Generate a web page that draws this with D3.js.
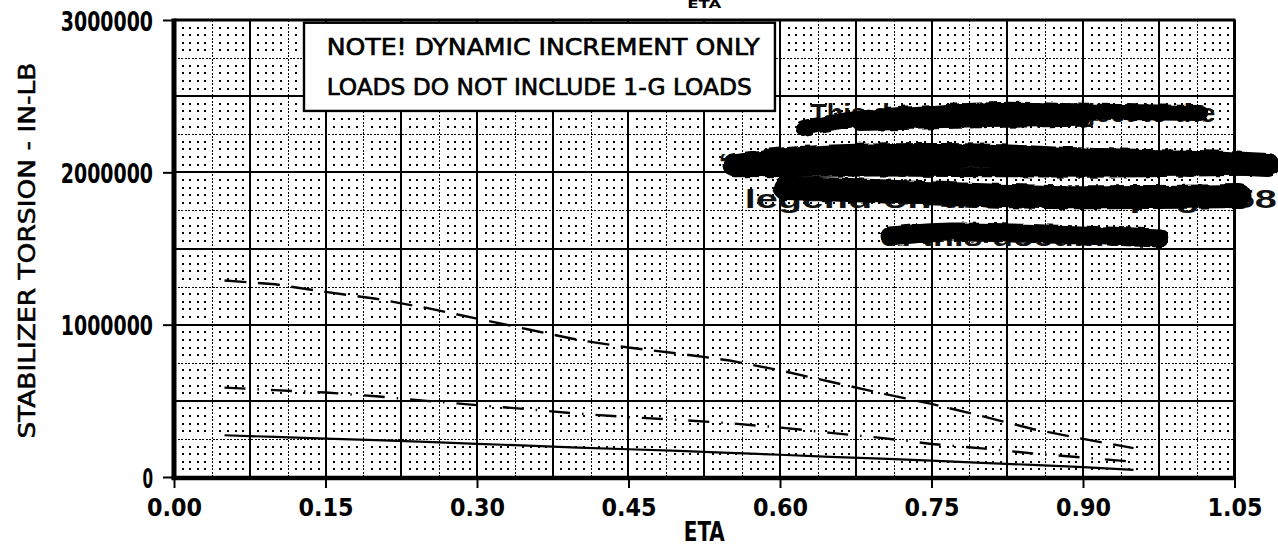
<!DOCTYPE html>
<html><head><meta charset="utf-8">
<script src="https://cdn.jsdelivr.net/npm/d3@7"></script>
<style>body{margin:0;background:#fff;} svg{display:block}</style>
</head><body><svg id="c" width="1278" height="550"></svg>
<script>
// ---------------- data ----------------
const eta = [0.05,0.10,0.15,0.20,0.25,0.30,0.35,0.40,0.45,0.50,0.55,0.60,0.65,0.70,0.75,0.80,0.85,0.90,0.95];
const torsionLongDash = [1290000,1265000,1215000,1170000,1110000,1040000,970000,900000,850000,810000,765000,700000,625000,550000,480000,400000,315000,250000,190000];
const torsionDashDot  = [587000,570000,555000,530000,500000,472000,445000,416000,393000,375000,353000,325000,290000,257000,217000,188000,155000,128000,100000];
const torsionSolid    = [274000,263000,252000,242000,230000,218000,206000,193000,182000,171000,159000,146000,132000,120000,107000,93000,79000,65000,47000];
const xTicks = [0,0.15,0.30,0.45,0.60,0.75,0.90,1.05];
const xTickLabels = ["0.00","0.15","0.30","0.45","0.60","0.75","0.90","1.05"];
const yTicks = [0,1000000,2000000,3000000];
const yTickLabels = ["0","1000000","2000000","3000000"];
const xTitle = "ETA";
const yTitle = "STABILIZER TORSION - IN-LB";
const noteLines = ["NOTE! DYNAMIC INCREMENT ONLY","LOADS DO NOT INCLUDE 1-G LOADS"];
const stampLines = ["This document is subject to the","\u201CLimited Rights\u201D restrictive legende","legend on the cover page 58","of this document."];

// ---------------- layout ----------------
const x = d3.scaleLinear([0,1.05],[174,1234.5]);
const y = d3.scaleLinear([0,3000000],[477,20]);
const svg = d3.select("#c");
const FONT = "'Liberation Sans Narrow','DejaVu Sans Condensed','Liberation Sans',sans-serif";
const px = v => Math.round(v);

// ---------------- grid ----------------
const g = svg.append("g").attr("shape-rendering","crispEdges");
const dots = [];
for (let i = 0; i <= 140; i++) for (let j = 0; j <= 60; j++) {
  if (i % 5 === 0 || j % 5 === 0) continue;
  dots.push([i*0.0075, j*50000]);
}
g.append("g").selectAll("rect").data(dots).join("rect")
  .attr("x", d => px(x(d[0]))).attr("y", d => px(y(d[1])) - 1)
  .attr("width", 2).attr("height", 2).attr("fill", "#000");
const dotX = d3.range(1, 28, 2).map(i => i*0.0375);
const dotY = d3.range(1, 12, 2).map(j => j*250000);
g.append("g").selectAll("line").data(dotX).join("line")
  .attr("x1", d => px(x(d)) + 0.5).attr("x2", d => px(x(d)) + 0.5).attr("y1", y(0)).attr("y2", y(3000000))
  .attr("stroke", "#000").attr("stroke-width", 1.6).attr("stroke-dasharray", "2,1.5");
g.append("g").selectAll("line").data(dotY).join("line")
  .attr("y1", d => px(y(d)) + 0.5).attr("y2", d => px(y(d)) + 0.5).attr("x1", x(0)).attr("x2", x(1.05))
  .attr("stroke", "#000").attr("stroke-width", 1.6).attr("stroke-dasharray", "2,1.5");
const solX = d3.range(1, 14).map(i => i*0.075);
const solY = d3.range(1, 6).map(j => j*500000);
g.append("g").selectAll("line").data(solX).join("line")
  .attr("x1", d => px(x(d))).attr("x2", d => px(x(d))).attr("y1", y(0)).attr("y2", y(3000000))
  .attr("stroke", "#000").attr("stroke-width", 2);
g.append("g").selectAll("line").data(solY).join("line")
  .attr("y1", d => px(y(d))).attr("y2", d => px(y(d))).attr("x1", x(0)).attr("x2", x(1.05))
  .attr("stroke", "#000").attr("stroke-width", 2);

// frame
svg.append("line").attr("x1", x(0)).attr("x2", x(1.05)+1).attr("y1", y(3000000)).attr("y2", y(3000000)).attr("stroke","#000").attr("stroke-width",3);
svg.append("line").attr("x1", x(1.05)).attr("x2", x(1.05)).attr("y1", y(0)).attr("y2", y(3000000)).attr("stroke","#000").attr("stroke-width",3);

// ---------------- series ----------------
const line = d3.line().x((d,i) => x(eta[i])).y(d => y(d));
svg.append("path").datum(torsionSolid).attr("d", line).attr("fill","none").attr("stroke","#000").attr("stroke-width",2.2);
svg.append("path").datum(torsionDashDot).attr("d", line).attr("fill","none").attr("stroke","#000").attr("stroke-width",2.4).attr("stroke-dasharray","21,12,1.5,12");
svg.append("path").datum(torsionLongDash).attr("d", line).attr("fill","none").attr("stroke","#000").attr("stroke-width",2.4).attr("stroke-dasharray","22,11.5");

// ---------------- axes ----------------
const xAxis = d3.axisBottom(x).tickValues(xTicks).tickFormat((d,i) => xTickLabels[i]).tickSize(11).tickSizeOuter(0);
const gx = svg.append("g").attr("transform", `translate(0,${y(0)})`).call(xAxis);
gx.select(".domain").remove();
gx.selectAll(".tick line").attr("stroke","#000").attr("stroke-width",2);
gx.selectAll(".tick text").attr("y", 39).attr("dy", null)
  .attr("font-family", FONT).attr("font-weight","bold").attr("font-size", 25).attr("fill","#000")
  .attr("textLength", 55).attr("lengthAdjust","spacingAndGlyphs");

const yAxis = d3.axisLeft(y).tickValues(yTicks).tickFormat((d,i) => yTickLabels[i]).tickSize(11).tickSizeOuter(0);
const gy = svg.append("g").attr("transform", `translate(${x(0)},0)`).call(yAxis);
gy.select(".domain").remove();
gy.selectAll(".tick line").attr("stroke","#000").attr("stroke-width",2);
gy.selectAll(".tick text").attr("x", -21).attr("dy", "0.37em")
  .attr("font-family", FONT).attr("font-weight","bold").attr("font-size", 27).attr("fill","#000")
  .each(function(d,i){ const n = yTickLabels[i].length; d3.select(this).attr("textLength", n*13.6 - 3).attr("lengthAdjust","spacingAndGlyphs"); });

// thick axis lines
svg.append("line").attr("x1", x(0)).attr("x2", x(0)).attr("y1", y(0)+2).attr("y2", y(3000000)-1.5).attr("stroke","#000").attr("stroke-width",5);
svg.append("line").attr("x1", x(0)-2.5).attr("x2", x(1.05)+1.5).attr("y1", y(0)+1).attr("y2", y(0)+1).attr("stroke","#000").attr("stroke-width",4.5);

// titles
svg.append("text").attr("x", (x(0)+x(1.05))/2).attr("y", 541).attr("text-anchor","middle")
  .attr("font-family", FONT).attr("font-weight","bold").attr("font-size", 26).attr("fill","#000")
  .attr("textLength", 41).attr("lengthAdjust","spacingAndGlyphs").text(xTitle);
svg.append("text").attr("x", (x(0)+x(1.05))/2).attr("y", 8).attr("text-anchor","middle")
  .attr("font-family", FONT).attr("font-weight","bold").attr("font-size", 10).attr("fill","#000")
  .attr("textLength", 34).attr("lengthAdjust","spacingAndGlyphs").text(xTitle);
svg.append("text").attr("transform", `translate(35,${(y(0)+y(3000000))/2 + 2}) rotate(-90)`).attr("text-anchor","middle")
  .attr("font-family", FONT).attr("font-size", 23).attr("fill","#000").attr("stroke","#000").attr("stroke-width",0.5)
  .attr("textLength", 376).attr("lengthAdjust","spacingAndGlyphs").text(yTitle);

// ---------------- note box ----------------
const noteBox = {x0: 0.1287, x1: 0.595, y0: 2982000, y1: 2403000};
svg.append("rect").attr("x", x(noteBox.x0)).attr("y", y(noteBox.y0))
  .attr("width", x(noteBox.x1) - x(noteBox.x0)).attr("height", y(noteBox.y1) - y(noteBox.y0))
  .attr("fill","#fff").attr("stroke","#000").attr("stroke-width",2.4);
const noteBase = [2770000, 2508000];
const noteWidth = [433, 425];
svg.selectAll("text.note").data(noteLines).join("text").attr("class","note")
  .attr("x", x(0.1512)).attr("y", (d,i) => y(noteBase[i]))
  .attr("font-family", FONT).attr("font-size", 23).attr("fill","#000").attr("stroke","#000").attr("stroke-width",0.6)
  .attr("textLength", (d,i) => noteWidth[i]).attr("lengthAdjust","spacingAndGlyphs")
  .text(d => d);

// ---------------- hand-redacted stamp ----------------
const stampPos = [
  {x0:0.630, x1:1.031, v:2330000},
  {x0:0.539, x1:1.092, v:2002000},
  {x0:0.565, x1:1.092, v:1766000},
  {x0:0.699, x1:0.981, v:1516000}
];
svg.selectAll("text.stamp").data(stampLines).join("text").attr("class","stamp")
  .attr("x", (d,i) => x(stampPos[i].x0)).attr("y", (d,i) => y(stampPos[i].v))
  .attr("font-family","'Liberation Sans',Arial,sans-serif").attr("font-weight","bold").attr("font-size", 25).attr("fill","#111")
  .attr("textLength", (d,i) => x(stampPos[i].x1) - x(stampPos[i].x0)).attr("lengthAdjust","spacingAndGlyphs")
  .text(d => d);
const defs = svg.append("defs");
const f = defs.append("filter").attr("id","rough").attr("x","-10%").attr("y","-50%").attr("width","120%").attr("height","200%");
f.append("feTurbulence").attr("type","fractalNoise").attr("baseFrequency","0.09").attr("numOctaves",2).attr("seed",5).attr("result","n");
f.append("feDisplacementMap").attr("in","SourceGraphic").attr("in2","n").attr("scale",5);
const strokes = [
  {w:16, p:[[0.623,2291000],[0.669,2344000],[0.719,2376000],[0.818,2410000],[0.917,2397000],[1.016,2390000]]},
  {w:14, p:[[0.679,2318000],[0.808,2337000],[0.900,2345000]]},
  {w:24, p:[[0.555,2048000],[0.620,2094000],[0.768,2114000],[0.917,2081000],[1.016,2068000],[1.083,2048000]]},
  {w:10, p:[[0.555,2000000],[0.700,2005000],[0.900,1998000],[1.060,2010000]]},
  {w:24, p:[[0.605,1897000],[0.669,1884000],[0.768,1858000],[0.867,1838000],[0.966,1838000],[1.055,1845000]]},
  {w:19, p:[[0.709,1582000],[0.768,1608000],[0.867,1595000],[0.976,1569000]]}
];
const sl = d3.line().x(d => x(d[0])).y(d => y(d[1])).curve(d3.curveCatmullRom);
svg.append("g").attr("filter","url(#rough)").selectAll("path").data(strokes).join("path")
  .attr("d", d => sl(d.p)).attr("fill","none").attr("stroke","#000")
  .attr("stroke-width", d => d.w).attr("stroke-linecap","round").attr("stroke-linejoin","round");
</script></body></html>
